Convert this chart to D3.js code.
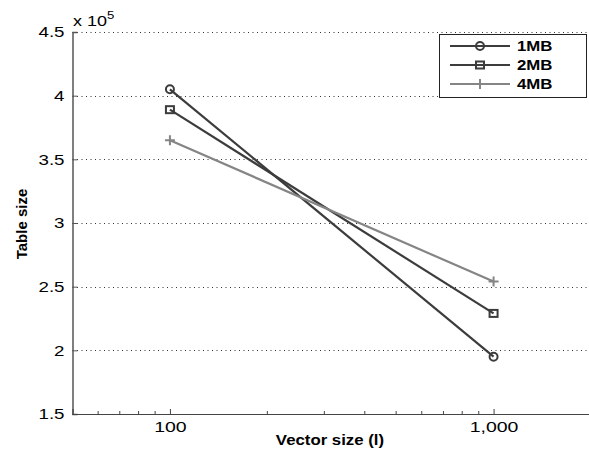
<!DOCTYPE html>
<meta charset="utf-8">
<style>
body { margin: 0; background: #fff; font-family: Arial, 'Liberation Sans', sans-serif; }
svg { display: block; }
.grid line { stroke: #333; stroke-dasharray: 1,3.5; }
.tick text { font-size: 15px; fill: #000; transform-box: fill-box; }
.ytk .tick text { transform-origin: right center; transform: scaleX(1.25); }
.xtk .tick text { transform-origin: center center; transform: scaleX(1.3); }
.lbl { font-size: 14px; font-weight: bold; fill: #000; }
.wide { transform-box: fill-box; transform: scaleX(1.2); }
</style>
<body>
<script src="https://cdn.jsdelivr.net/npm/d3@7"></script>
<script>
// data, y values in units of 10^5
var vecSizes = [100, 1000];
var seriesNames = ["1MB", "2MB", "4MB"];
var seriesVals = {
  "1MB": [4.05, 1.95],
  "2MB": [3.89, 2.29],
  "4MB": [3.65, 2.54]
};
var yTicks = [1.5, 2, 2.5, 3, 3.5, 4, 4.5];
var xTicks = [100, 1000];
var xMinor = [60, 70, 80, 90, 200, 300, 400, 500, 600, 700, 800, 900, 2000];

var colors = { "1MB": "#3c3c3c", "2MB": "#3c3c3c", "4MB": "#858585" };
var markers = { "1MB": "circle", "2MB": "square", "4MB": "plus" };

var W = 589, H = 457;
var plotLeft = 72.5, plotTop = 32, plotBottom = 414;

var x = d3.scaleLog().domain([50, 2000]).range([plotLeft, 591]);
var y = d3.scaleLinear().domain([1.5, 4.5]).range([plotBottom, plotTop]);

var svg = d3.select("body").append("svg").attr("width", W).attr("height", H);

// horizontal dotted gridlines
svg.append("g").attr("class", "grid")
  .selectAll("line").data(yTicks.slice(1)).enter().append("line")
  .attr("x1", plotLeft).attr("x2", W)
  .attr("y1", function(d) { return Math.round(y(d)) + 0.5; })
  .attr("y2", function(d) { return Math.round(y(d)) + 0.5; });

// axes
var yAxis = d3.axisLeft(y).tickValues(yTicks).tickSize(-5).tickPadding(8)
  .tickFormat(d3.format("~g"));
var gy = svg.append("g").attr("class", "ytk").attr("transform", "translate(" + plotLeft + ",0)").call(yAxis);
gy.select(".domain").attr("stroke", "#555").attr("stroke-width", 1.5);
gy.selectAll(".tick line").attr("stroke", "#555");

var xAxis = d3.axisBottom(x).tickValues(xTicks).tickSize(-5).tickPadding(7)
  .tickFormat(d3.format(",d"));
var gx = svg.append("g").attr("class", "xtk").attr("transform", "translate(0," + plotBottom + ")").call(xAxis);
gx.select(".domain").attr("stroke", "#444").attr("stroke-width", 1.2);
gx.selectAll(".tick line").attr("stroke", "#444");
gx.selectAll(".minor").data(xMinor).enter().append("line")
  .attr("x1", function(d) { return x(d); }).attr("x2", function(d) { return x(d); })
  .attr("y1", 0).attr("y2", -3).attr("stroke", "#444");

// exponent label
var ex = svg.append("text").attr("class", "wide").attr("x", 73).attr("y", 26)
  .style("font-size", "15px").style("transform-origin", "left center");
ex.append("tspan").text("x 10");
ex.append("tspan").attr("dy", -7).style("font-size", "11px").text("5");

// axis titles
svg.append("text").attr("class", "lbl wide").attr("x", 330).attr("y", 445)
  .style("transform-origin", "center center")
  .attr("text-anchor", "middle").text("Vector size (l)");
svg.append("text").attr("class", "lbl").attr("text-anchor", "middle")
  .style("font-size", "15px")
  .attr("transform", "translate(27,224) rotate(-90)").text("Table size");

var line = d3.line()
  .x(function(d, i) { return x(vecSizes[i]); })
  .y(function(d) { return y(d); });

function drawMarker(g, type, cx, cy, col) {
  if (type === "circle") {
    g.append("circle").attr("cx", cx).attr("cy", cy).attr("r", 4)
      .attr("fill", "none").attr("stroke", col).attr("stroke-width", 2);
  } else if (type === "square") {
    g.append("rect").attr("x", cx - 4).attr("y", cy - 3.5).attr("width", 8).attr("height", 7)
      .attr("fill", "none").attr("stroke", col).attr("stroke-width", 2);
  } else {
    g.append("path").attr("d", "M" + (cx - 5) + "," + cy + "H" + (cx + 5) + "M" + cx + "," + (cy - 5) + "V" + (cy + 5))
      .attr("stroke", col).attr("stroke-width", 2);
  }
}

seriesNames.forEach(function(name) {
  var vals = seriesVals[name];
  svg.append("path").attr("d", line(vals)).attr("fill", "none")
    .attr("stroke", colors[name]).attr("stroke-width", 2.2);
  var g = svg.append("g");
  vals.forEach(function(v, i) { drawMarker(g, markers[name], x(vecSizes[i]), y(v), colors[name]); });
});

// legend
var lg = svg.append("g");
lg.append("rect").attr("x", 439.5).attr("y", 34.5).attr("width", 147).attr("height", 63)
  .attr("fill", "#fff").attr("stroke", "#222").attr("stroke-width", 1);
seriesNames.forEach(function(name, i) {
  var ly = 46 + i * 19;
  lg.append("line").attr("x1", 450).attr("x2", 510).attr("y1", ly).attr("y2", ly)
    .attr("stroke", colors[name]).attr("stroke-width", 2.2);
  drawMarker(lg, markers[name], 480, ly, colors[name]);
  lg.append("text").attr("class", "lbl wide").attr("x", 517).attr("y", ly + 5)
    .style("transform-origin", "left center").text(name);
});
</script>
